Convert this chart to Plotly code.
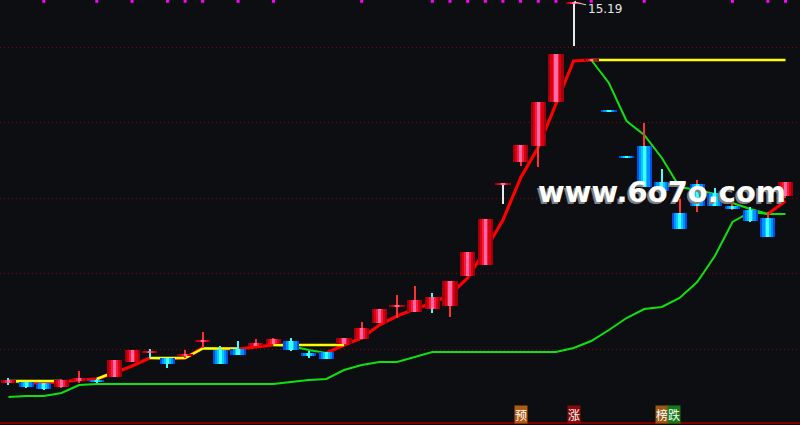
import plotly.graph_objects as go

# ---------------- data (price units) ----------------
opens  = [11.38,11.39,11.38,11.34,11.40,11.41,11.44,11.59,11.68,11.63,
          11.65,11.79,11.71,11.72,11.75,11.77,11.80,11.68,11.69,11.77,
          11.82,11.98,12.14,12.09,12.12,12.15,12.45,12.56,13.36,13.59,
          13.75,14.19,15.17,14.60,14.10,13.64,13.75,13.39,13.08,13.37,
          13.28,13.15,13.11,13.03,13.25]
closes = [11.41,11.34,11.32,11.41,11.43,11.39,11.61,11.71,11.70,11.57,
          11.67,11.81,11.57,11.66,11.78,11.82,11.71,11.65,11.62,11.83,
          11.93,12.12,12.16,12.21,12.24,12.40,12.69,13.02,13.37,13.76,
          14.19,14.67,15.19,14.62,14.09,13.63,13.34,13.30,12.92,13.15,
          13.15,13.12,13.00,12.84,13.39]
highs  = [11.43,11.39,11.38,11.42,11.50,11.42,11.61,11.71,11.72,11.63,
          11.71,11.89,11.75,11.80,11.82,11.83,11.83,11.70,11.69,11.83,
          11.99,12.12,12.26,12.35,12.28,12.40,12.69,13.02,13.37,13.76,
          14.19,14.67,15.19,14.62,14.10,13.64,13.98,13.52,13.22,13.41,
          13.33,13.19,13.14,13.09,13.39]
lows   = [11.36,11.33,11.31,11.33,11.38,11.38,11.44,11.59,11.63,11.53,
          11.63,11.73,11.57,11.66,11.75,11.77,11.70,11.63,11.62,11.77,
          11.82,11.98,12.03,12.09,12.08,12.04,12.45,12.56,13.17,13.55,
          13.54,14.19,14.75,14.60,14.09,13.63,13.34,13.30,12.92,13.09,
          13.15,13.11,12.99,12.84,13.23]

trend = [11.40,11.38,11.38,11.39,11.41,11.42,11.48,11.55,11.63,11.62,
         11.63,11.73,11.72,11.72,11.74,11.76,11.75,11.71,11.68,11.76,
         11.83,11.96,12.05,12.12,12.18,12.26,12.43,12.71,13.01,13.43,
         13.74,14.17,14.60,14.61,14.38,14.00,13.86,13.63,13.34,13.31,
         13.27,13.18,13.12,13.07,13.20]

ceiling = [11.40,11.40,11.40,11.40,None,11.42,11.49,None,11.63,11.63,
           11.63,11.725,11.725,11.725,None,11.76,11.76,11.76,11.76,11.76,
           None,None,None,None,None,None,None,None,None,None,
           None,None,None,14.61,14.61,14.61,14.61,14.61,14.61,14.61,
           14.61,14.61,14.61,14.61,14.61]

support = [11.24,11.25,11.25,11.28,11.36,11.37,11.37,11.37,11.37,11.37,
           11.37,11.37,11.37,11.37,11.37,11.37,11.39,11.41,11.42,11.51,
           11.56,11.59,11.59,11.64,11.69,11.69,11.69,11.69,11.69,11.69,
           11.69,11.69,11.73,11.80,11.91,12.03,12.12,12.14,12.23,12.39,
           12.65,12.99,13.09,13.07,13.07]

signal_idx = [2,5,7,9,10,11,13,15,20,24,25,26,27,28,29,30,31,33,36,41,43,44]

peak_idx = 32
peak_text = "15.19"

bottom_marks = [(29, "预", "#b05a12", 0), (32, "涨", "#8a0a0a", 0),
                (37, "榜", "#9a5812", 0), (37, "跌", "#127a18", 12)]

# wick colour keys (style)
wick_key = ['c','c','c','r','r','c','r','r','c','c',
            'r','r','c','c','r','r','c','c','c','r',
            'r','r','r','r','c','r','r','r','w','r',
            'r','r','w','r','c','c','r','c','r','r',
            'c','r','c','r','r']

# ---------------- styling ----------------
BG = "#0d0e11"
N = len(opens)
idx = list(range(N))
XR = [-0.481, 44.821]
YR = [10.96, 15.21]

fig = go.Figure()

# support line
fig.add_trace(go.Scatter(x=idx, y=support, mode="lines",
                         line=dict(color="#10e010", width=2), hoverinfo="skip"))

# trend line segments coloured by direction
runs = []
for i in range(N - 1):
    col = "red" if trend[i + 1] >= trend[i] else "green"
    if runs and runs[-1][0] == col and runs[-1][2] == i:
        runs[-1][2] = i + 1
    else:
        runs.append([col, i, i + 1])
for col, a, b in runs:
    fig.add_trace(go.Scatter(
        x=idx[a:b + 1], y=trend[a:b + 1], mode="lines",
        line=dict(color="#ff0000" if col == "red" else "#10e010",
                  width=3.2 if col == "red" else 2),
        hoverinfo="skip"))

# ceiling (yellow)
fig.add_trace(go.Scatter(x=idx, y=ceiling, mode="lines", connectgaps=False,
                         line=dict(color="#ffff00", width=2.5), hoverinfo="skip"))

# signal dots at top
fig.add_trace(go.Scatter(x=signal_idx, y=[15.197] * len(signal_idx), mode="markers",
                         marker=dict(symbol="square", size=3, color="#ff00ff",
                                     line=dict(width=0)),
                         hoverinfo="skip"))

# ---------------- candles (overlay axes, drawn above lines) ----------------
wick_cols = {'r': "#ff3030", 'c': "#40ffff", 'w': "#e8e8e8"}
for key, col in wick_cols.items():
    xs = [i for i in idx if wick_key[i] == key]
    fig.add_trace(go.Bar(
        x=xs, base=[lows[i] for i in xs],
        y=[max(highs[i] - lows[i], 0.01) for i in xs],
        width=0.06, marker=dict(color=col, line=dict(width=0)),
        xaxis="x2", yaxis="y2", hoverinfo="skip"))

up = [i for i in idx if closes[i] >= opens[i]]
dn = [i for i in idx if closes[i] < opens[i]]
red_layers = [(0.86, "#a0000c"), (0.62, "#d8000e"), (0.36, "#ff1838"), (0.18, "#ff6aa8")]
blue_layers = [(0.86, "#0050e8"), (0.62, "#0090ff"), (0.36, "#00ccff"), (0.18, "#40ffff")]
for group, layers in ((up, red_layers), (dn, blue_layers)):
    base = [min(opens[i], closes[i]) for i in group]
    hgt = [max(abs(closes[i] - opens[i]), 0.02) for i in group]
    for w, c in layers:
        fig.add_trace(go.Bar(x=group, base=base, y=hgt, width=w,
                             marker=dict(color=c, line=dict(width=0)),
                             xaxis="x2", yaxis="y2", hoverinfo="skip"))

# ---------------- annotations ----------------
ann = []
ann.append(dict(x=peak_idx, y=highs[peak_idx], xref="x", yref="y", text=peak_text,
                showarrow=True, ax=31, ay=7, arrowcolor="#d8d8d8", arrowwidth=1,
                arrowhead=1, arrowsize=0.7, standoff=0,
                font=dict(family="DejaVu Sans", size=12, color="#e8e8e8")))
for xi, t, bg, xs in bottom_marks:
    ann.append(dict(x=xi, y=0.025, xref="x", yref="paper", text=t, showarrow=False,
                    xshift=xs, bgcolor=bg, borderpad=0,
                    xanchor="center", yanchor="middle",
                    font=dict(family="Noto Sans CJK SC", size=12, color="#ffffff")))
# watermark (single text with a grey drop shadow)
ann.append(dict(x=0.828, y=0.548, xref="paper", yref="paper", text="www.6o7o.com",
                showarrow=False, xanchor="center", yanchor="middle",
                font=dict(family="DejaVu Sans", size=29, color="#ffffff", weight="bold",
                          shadow="-2px 2px 0px #808080")))

fig.update_layout(
    width=800, height=425, margin=dict(l=0, r=0, t=0, b=0, pad=0),
    paper_bgcolor=BG, plot_bgcolor=BG, showlegend=False,
    barmode="overlay", bargap=0,
    xaxis=dict(range=XR, visible=False, fixedrange=True),
    yaxis=dict(range=YR, showgrid=True, gridcolor="#8b0000", gridwidth=1,
               griddash="1px,3px", tickvals=[14.74, 13.99, 13.23, 12.48, 11.72],
               showticklabels=False, ticks="", zeroline=False, showline=False,
               fixedrange=True),
    xaxis2=dict(range=XR, overlaying="x", visible=False),
    yaxis2=dict(range=YR, overlaying="y", visible=False),
    annotations=ann,
    shapes=[dict(type="line", xref="paper", x0=0, x1=1, yref="y", y0=10.98, y1=10.98,
                 line=dict(color="#7a0000", width=2))],
)

fig.write_html("out.html", config={"displayModeBar": False},
               post_script="document.body.style.margin='0px';"
                           "document.body.style.backgroundColor='#0d0e11';")
